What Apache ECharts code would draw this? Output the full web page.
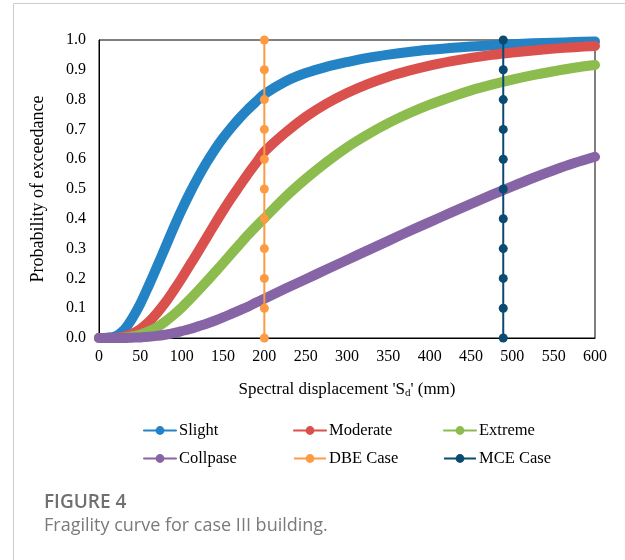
<!DOCTYPE html>
<html>
<head>
<meta charset="utf-8">
<script src="https://cdn.jsdelivr.net/npm/echarts@6/dist/echarts.min.js"></script>
<style>
  html, body { margin: 0; padding: 0; background: #ffffff; }
  #chart { width: 625px; height: 560px; }
</style>
</head>
<body>
<div id="chart"></div>
<script>
// Spectral displacement (mm) at which each fragility curve is sampled
const displacement = [0, 10, 20, 30, 40, 50, 60, 70, 80, 90, 100, 110, 120, 130, 140, 150, 160, 170, 180, 190, 200,
  225, 250, 275, 300, 325, 350, 375, 400, 425, 450, 475, 500, 525, 550, 575, 600];

// Probability of exceedance for each damage state
const slight = [0, 0.001, 0.006, 0.026, 0.065, 0.115, 0.175, 0.238, 0.303, 0.368, 0.43, 0.487, 0.54, 0.588, 0.632,
  0.671, 0.706, 0.738, 0.767, 0.793, 0.818, 0.86, 0.889, 0.91, 0.926, 0.94, 0.951, 0.96, 0.967, 0.973, 0.978, 0.982,
  0.986, 0.989, 0.991, 0.993, 0.995];
const moderate = [0, 0, 0.001, 0.005, 0.014, 0.03, 0.053, 0.083, 0.118, 0.158, 0.2, 0.245, 0.29, 0.336, 0.382,
  0.427, 0.47, 0.51, 0.55, 0.587, 0.625, 0.688, 0.742, 0.786, 0.822, 0.852, 0.877, 0.897, 0.914, 0.928, 0.94, 0.95,
  0.958, 0.965, 0.971, 0.976, 0.98];
const extreme = [0, 0, 0, 0.001, 0.005, 0.012, 0.022, 0.036, 0.055, 0.077, 0.102, 0.13, 0.159, 0.189, 0.22, 0.251,
  0.283, 0.314, 0.345, 0.374, 0.402, 0.472, 0.534, 0.59, 0.64, 0.683, 0.721, 0.754, 0.783, 0.808, 0.831, 0.85,
  0.867, 0.882, 0.895, 0.907, 0.916];
const collapse = [0, 0, 0, 0, 0.001, 0.002, 0.004, 0.007, 0.011, 0.016, 0.023, 0.03, 0.039, 0.048, 0.058, 0.069,
  0.081, 0.093, 0.105, 0.119, 0.132, 0.165, 0.197, 0.23, 0.262, 0.294, 0.326, 0.358, 0.389, 0.42, 0.45, 0.48,
  0.509, 0.537, 0.563, 0.587, 0.608];

// Design-level spectral displacements and the probability levels marked on them
const dbeDisplacement = 200;
const mceDisplacement = 489;
const markerLevels = [0, 0.1, 0.2, 0.3, 0.4, 0.5, 0.6, 0.7, 0.8, 0.9, 1.0];

// Axis ticks
const xTicks = [0, 50, 100, 150, 200, 250, 300, 350, 400, 450, 500, 550, 600];
const yTicks = [0, 0.1, 0.2, 0.3, 0.4, 0.5, 0.6, 0.7, 0.8, 0.9, 1.0];

const seriesNames = ['Slight', 'Moderate', 'Extreme', 'Collpase', 'DBE Case', 'MCE Case'];
const seriesColors = ['#2383c4', '#d9504c', '#8cbb4e', '#8764a5', '#fd9b43', '#0b4a71'];

const serif = 'Liberation Serif, Times New Roman, serif';

function curve(name, color, values) {
  return {
    name: name,
    type: 'line',
    data: displacement.map((d, i) => [d, values[i]]),
    smooth: 0.3,
    symbol: 'circle',
    showSymbol: false,
    clip: false,
    color: color,
    lineStyle: { width: 10, cap: 'round', join: 'round', color: color },
    emphasis: { disabled: true },
    silent: true
  };
}

function designLine(name, color, x) {
  return {
    name: name,
    type: 'line',
    data: markerLevels.map(v => [x, v]),
    symbol: 'circle',
    symbolSize: 9,
    showSymbol: true,
    clip: false,
    color: color,
    itemStyle: { color: color },
    lineStyle: { width: 2, color: color },
    emphasis: { disabled: true },
    silent: true
  };
}

// One legend block per entry so the three columns line up
const legendCols = [143, 293, 443];
const legendRows = [422, 450];
const legends = seriesNames.map((n, i) => ({
  data: [n],
  left: legendCols[i % 3],
  top: legendRows[Math.floor(i / 3)],
  itemWidth: 32,
  itemHeight: 11,
  itemGap: 0,
  selectedMode: false,
  lineStyle: { width: 2 },
  textStyle: { fontFamily: serif, fontSize: 16.5, color: '#000', padding: [0, 0, 0, -2] },
  padding: 0
}));

const chart = echarts.init(document.getElementById('chart'), null, { renderer: 'canvas' });
chart.setOption({
  animation: false,
  backgroundColor: '#ffffff',
  grid: {
    left: 99, right: 30, top: 40, bottom: 222,
    show: true, borderColor: '#000', borderWidth: 1, backgroundColor: 'transparent'
  },
  legend: legends,
  xAxis: {
    type: 'value',
    min: xTicks[0], max: xTicks[xTicks.length - 1], interval: 50,
    name: '{t|Spectral displacement \'S}{s|d}{t|\' (mm)}',
    nameLocation: 'middle',
    nameGap: 42,
    nameTextStyle: {
      rich: {
        t: { fontFamily: serif, fontSize: 17, color: '#000' },
        s: { fontFamily: serif, fontSize: 11, color: '#000', verticalAlign: 'bottom', padding: [8, 0, 0, 0] }
      }
    },
    axisLine: { show: true, lineStyle: { color: '#000', width: 1 } },
    axisTick: { show: false },
    splitLine: { show: false },
    axisLabel: { fontFamily: serif, fontSize: 16, color: '#000', margin: 11 }
  },
  yAxis: {
    type: 'value',
    min: yTicks[0], max: yTicks[yTicks.length - 1], interval: 0.1,
    name: 'Probability of exceedance',
    nameLocation: 'middle',
    nameGap: 52,
    nameTextStyle: { fontFamily: serif, fontSize: 18, color: '#000' },
    axisLine: { show: true, lineStyle: { color: '#000', width: 1 } },
    axisTick: { show: false },
    splitLine: { show: false },
    axisLabel: { fontFamily: serif, fontSize: 16, color: '#000', margin: 13, formatter: v => v.toFixed(1) }
  },
  series: [
    curve(seriesNames[0], seriesColors[0], slight),
    curve(seriesNames[1], seriesColors[1], moderate),
    curve(seriesNames[2], seriesColors[2], extreme),
    curve(seriesNames[3], seriesColors[3], collapse),
    designLine(seriesNames[4], seriesColors[4], dbeDisplacement),
    designLine(seriesNames[5], seriesColors[5], mceDisplacement)
  ],
  graphic: [
    {
      type: 'rect',
      shape: { x: 13.5, y: 3.5, width: 700, height: 700 },
      style: { fill: 'none', stroke: '#cccccc', lineWidth: 1 },
      silent: true
    },
    {
      type: 'text',
      left: 44, top: 493,
      style: { text: 'FIGURE 4', font: '600 19px "Open Sans", sans-serif', fill: '#707070' },
      silent: true
    },
    {
      type: 'text',
      left: 44, top: 517,
      style: { text: 'Fragility curve for case III building.', font: '18px "Open Sans", sans-serif', fill: '#7a7a7a' },
      silent: true
    }
  ]
});
</script>
</body>
</html>
